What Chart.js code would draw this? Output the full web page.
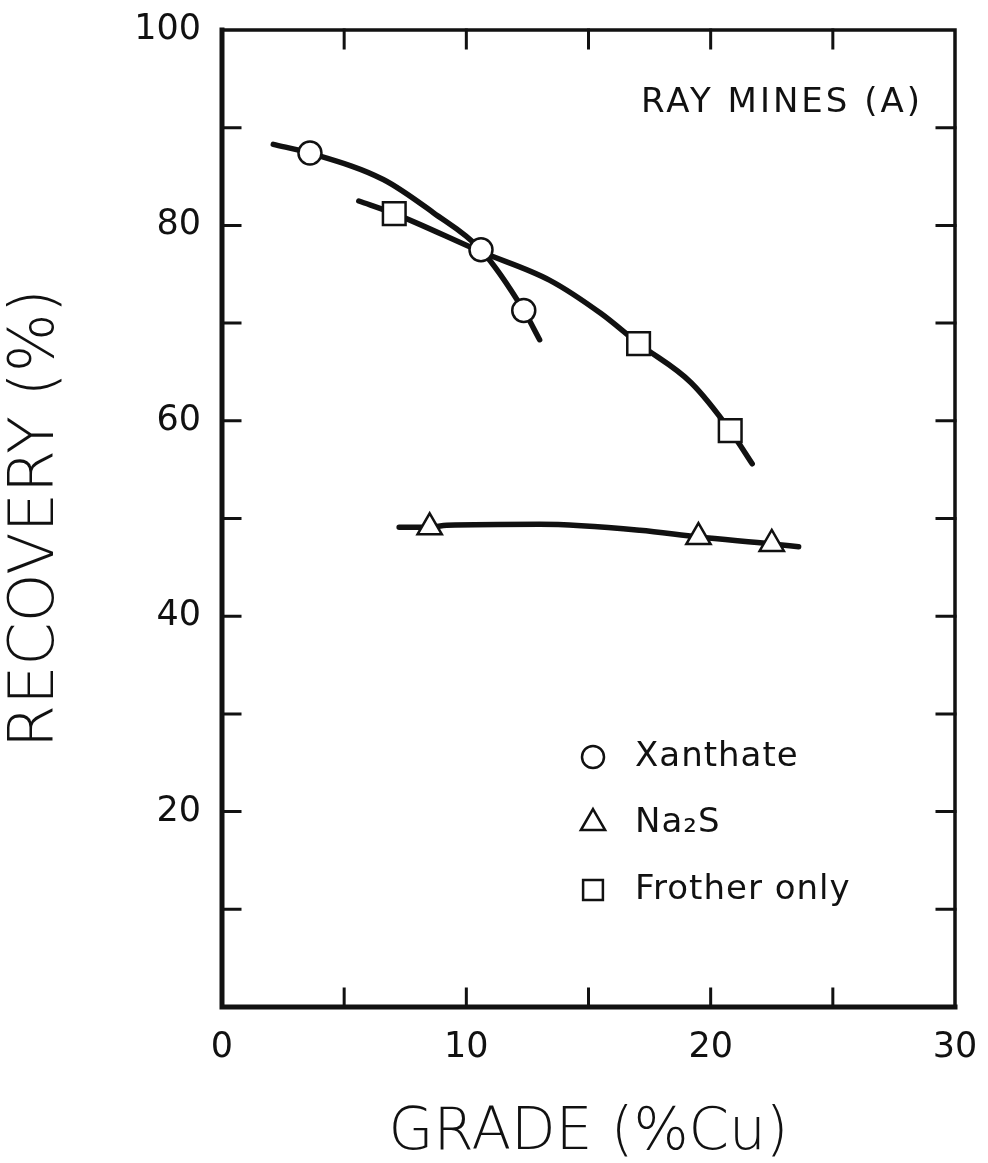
<!DOCTYPE html>
<html>
<head>
<meta charset="utf-8">
<title>Ray Mines (A) - recovery vs grade</title>
<script src="https://cdn.jsdelivr.net/npm/chart.js@4.4.1/dist/chart.umd.min.js"></script>
<style>
  html, body { margin: 0; padding: 0; background: #fff; }
  #wrap { width: 988px; height: 1163px; }
</style>
</head>
<body>
<div id="wrap"><canvas id="grade-chart" width="988" height="1163"></canvas></div>
<script>
// measured points (grade %Cu, recovery %)
const xanthateGrade = [3.6, 10.6, 12.35];
const xanthateRecovery = [87.4, 77.5, 71.3];
const na2sGrade = [8.5, 19.5, 22.5];
const na2sRecovery = [49.1, 48.1, 47.4];
const frotherGrade = [7.05, 17.05, 20.8];
const frotherRecovery = [81.2, 67.9, 59.0];

// hand-drawn trend curves through each set
const xanthateCurveGrade = [2.1, 3.6, 6.6, 8.65, 10.6, 12.35, 13.0];
const xanthateCurveRecovery = [88.3, 87.4, 84.7, 81.3, 77.5, 71.3, 68.3];
const frotherCurveGrade = [5.6, 7.05, 10.6, 13.4, 15.5, 17.05, 19.2, 20.8, 21.7];
const frotherCurveRecovery = [82.5, 81.2, 77.3, 74.4, 71.0, 67.9, 63.9, 59.0, 55.6];
const na2sCurveGrade = [7.25, 8.5, 9.2, 13.0, 17.1, 19.5, 22.5, 23.6];
const na2sCurveRecovery = [49.1, 49.1, 49.3, 49.4, 48.8, 48.1, 47.4, 47.1];

const legendLabels = ['Xanthate', 'Na\u2082S', 'Frother only'];
const legendStyles = ['circle', 'triangle', 'rect'];
const panelLabel = 'RAY MINES (A)';

const INK = '#111';
const FONT = '"DejaVu Sans", "Liberation Sans", sans-serif';

const toXY = (xs, ys) => xs.map((x, i) => ({ x: x, y: ys[i] }));

const markerSet = (label, xs, ys, style, radius) => ({
    label: label,
    data: toXY(xs, ys),
    showLine: false,
    pointStyle: style,
    pointRadius: radius,
    pointHoverRadius: radius,
    pointBorderWidth: 2.5,
    pointBorderColor: INK,
    pointBackgroundColor: '#fff'
});

const curveSet = (label, xs, ys) => ({
    label: label,
    data: toXY(xs, ys),
    showLine: true,
    borderColor: INK,
    borderWidth: 5.5,
    borderCapStyle: 'round',
    cubicInterpolationMode: 'monotone',
    pointRadius: 0,
    fill: false
});

// keep the plot box exactly where the layout padding puts it
const fixBox = size => s => {
    if (s.isHorizontal()) s.height = size; else s.width = size;
    s.paddingTop = 0; s.paddingBottom = 0; s.paddingLeft = 0; s.paddingRight = 0;
};

// box, inward ticks, panel label and legend
const framePlugin = {
    id: 'frame',
    afterDraw(chart) {
        const ctx = chart.ctx;
        const a = chart.chartArea;
        const xs = chart.scales.x;
        const ys = chart.scales.y;
        const tick = 18;
        ctx.save();
        ctx.strokeStyle = INK;
        ctx.lineCap = 'square';

        ctx.lineWidth = 3;
        xs.ticks.forEach(t => {
            if (t.value <= xs.min || t.value >= xs.max) return;
            const px = xs.getPixelForValue(t.value);
            ctx.beginPath();
            ctx.moveTo(px, a.bottom); ctx.lineTo(px, a.bottom - tick);
            ctx.moveTo(px, a.top); ctx.lineTo(px, a.top + tick);
            ctx.stroke();
        });
        ys.ticks.forEach(t => {
            if (t.value <= ys.min || t.value >= ys.max) return;
            const py = ys.getPixelForValue(t.value);
            ctx.beginPath();
            ctx.moveTo(a.left, py); ctx.lineTo(a.left + tick, py);
            ctx.moveTo(a.right, py); ctx.lineTo(a.right - tick, py);
            ctx.stroke();
        });

        ctx.lineWidth = 3.5;
        ctx.beginPath();
        ctx.moveTo(a.left, a.top); ctx.lineTo(a.right, a.top); ctx.lineTo(a.right, a.bottom);
        ctx.stroke();
        ctx.lineWidth = 5;
        ctx.beginPath();
        ctx.moveTo(a.left, a.top); ctx.lineTo(a.left, a.bottom); ctx.lineTo(a.right, a.bottom);
        ctx.stroke();

        ctx.fillStyle = INK;
        ctx.font = '34px ' + FONT;
        ctx.textBaseline = 'middle';
        ctx.textAlign = 'right';
        ctx.letterSpacing = '3px';
        ctx.fillText(panelLabel, a.right - 32, a.top + 73);
        ctx.letterSpacing = '1px';

        // legend
        ctx.textAlign = 'left';
        const lx = a.left + 371;
        const rows = [a.top + 727, a.top + 793, a.top + 860];
        const radii = [11, 14, 14];
        legendLabels.forEach((txt, i) => {
            ctx.lineWidth = 2.5;
            ctx.fillStyle = '#fff';
            Chart.helpers.drawPoint(ctx, {
                pointStyle: legendStyles[i], radius: radii[i], rotation: 0, borderWidth: 2.5
            }, lx, rows[i]);
            ctx.fillStyle = INK;
            ctx.fillText(txt, lx + 42, rows[i]);
        });
        ctx.restore();
    }
};

new Chart(document.getElementById('grade-chart'), {
    type: 'scatter',
    data: {
        datasets: [
            markerSet('Xanthate', xanthateGrade, xanthateRecovery, 'circle', 11.5),
            markerSet('Na\u2082S', na2sGrade, na2sRecovery, 'triangle', 14),
            markerSet('Frother only', frotherGrade, frotherRecovery, 'rect', 16),
            curveSet('Xanthate curve', xanthateCurveGrade, xanthateCurveRecovery),
            curveSet('Na\u2082S curve', na2sCurveGrade, na2sCurveRecovery),
            curveSet('Frother only curve', frotherCurveGrade, frotherCurveRecovery)
        ]
    },
    options: {
        responsive: false,
        animation: false,
        layout: { padding: { top: 30, right: 33, left: 0, bottom: 0 } },
        plugins: {
            legend: { display: false },
            tooltip: { enabled: false }
        },
        scales: {
            x: {
                type: 'linear',
                min: 0,
                max: 30,
                afterFit: fixBox(156),
                grid: { display: false, drawTicks: false },
                border: { display: false },
                ticks: {
                    stepSize: 5,
                    padding: 20,
                    color: INK,
                    font: { family: FONT, size: 35 },
                    maxRotation: 0,
                    callback: v => (v % 10 === 0 ? String(v) : '')
                },
                title: {
                    display: true,
                    text: 'GRADE (%Cu)',
                    color: INK,
                    font: { family: FONT, size: 58, weight: 300, lineHeight: 1 },
                    padding: { top: 0, bottom: 0 }
                }
            },
            y: {
                type: 'linear',
                min: 0,
                max: 100,
                afterFit: fixBox(222),
                grid: { display: false, drawTicks: false },
                border: { display: false },
                ticks: {
                    stepSize: 10,
                    padding: 21,
                    color: INK,
                    font: { family: FONT, size: 35 },
                    callback: v => (v % 20 === 0 && v !== 0 ? String(v) : '')
                },
                title: {
                    display: true,
                    text: 'RECOVERY (%)',
                    color: INK,
                    font: { family: FONT, size: 62, weight: 300, lineHeight: 1 },
                    padding: { top: 6, bottom: 0 }
                }
            }
        }
    },
    plugins: [framePlugin]
});
</script>
</body>
</html>
